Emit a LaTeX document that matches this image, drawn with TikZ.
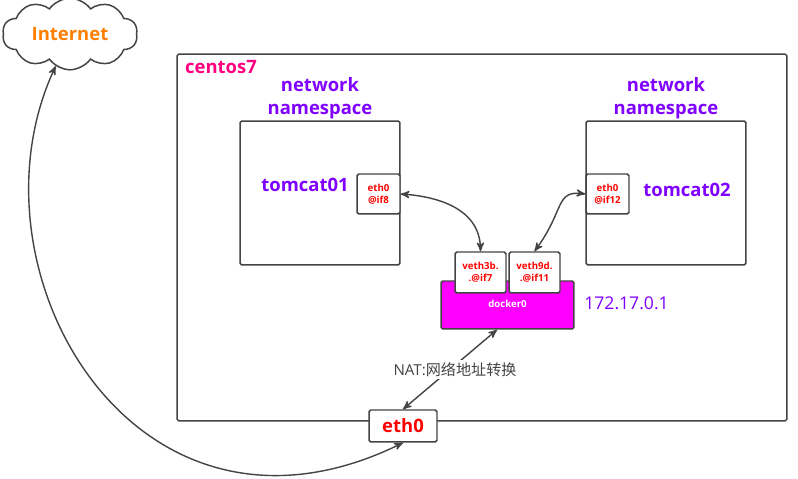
\documentclass[tikz,border=0pt]{standalone}
\usepackage{fontspec}
\setmainfont{Open Sans}
\newfontfamily\cjk{Noto Sans CJK SC}
\usepackage{tikz}
\usetikzlibrary{arrows}
\usetikzlibrary{shapes}
\definecolor{lineGray}{HTML}{444444}
\definecolor{nsPurple}{HTML}{7F00FF}
\definecolor{hostPink}{HTML}{FF0080}
\definecolor{netOrange}{HTML}{FF8000}
\definecolor{dockerPink}{HTML}{FF00FF}
\tikzset{
  box/.style={draw=lineGray, line width=0.85pt, rounded corners=1pt, fill=white, inner sep=0pt, align=center},
  port/.style={box, minimum width=0.86cm, minimum height=0.8cm, text=red, font=\fontsize{5.5}{6.6}\selectfont\bfseries},
  veth/.style={box, minimum width=1.02cm, minimum height=0.82cm, text=red, font=\fontsize{5.5}{7}\selectfont\bfseries},
  nsbox/.style={box, minimum width=3.2cm, minimum height=2.88cm},
  nstext/.style={text=nsPurple, align=center, font=\fontsize{10.5}{13}\selectfont\bfseries},
  link/.style={draw=lineGray, line width=0.8pt, <->, >=stealth'}
}
\begin{document}
\begin{tikzpicture}[x={(0.02,0)},y={(0,-0.02)}]
        \useasboundingbox (0,0) rectangle (798,479);

        \node[box, minimum width=12.2cm, minimum height=7.34cm](centos) at (482,237.5){};
        \node[anchor=west, text=hostPink, font=\fontsize{10.5}{13}\selectfont\bfseries](centosT) at (179,67){centos7};

        \node[cloud, cloud puffs=10, cloud puff arc=110, aspect=1.9, draw=lineGray, line width=0.85pt, fill=white, inner sep=0pt, minimum width=2.7cm, minimum height=1.22cm, text=netOrange, font=\fontsize{10.5}{13}\selectfont\bfseries](internet) at (70,34){Internet};

        \node[nstext](ns1) at (320,98){network\\namespace};
        \node[nstext](ns2) at (666,98){network\\namespace};

        \node[nsbox](tomcat1) at (320,193){};
        \node[nsbox](tomcat2) at (666,193){};
        \node[nstext](tomcat1T) at (305,185){tomcat01};
        \node[nstext](tomcat2T) at (687,190){tomcat02};

        \node[port](eth1) at (378.5,194){eth0\\@if8};
        \node[port](eth2) at (607.5,194){eth0\\@if12};

        \node[box, fill=dockerPink, minimum width=2.66cm, minimum height=0.96cm](docker) at (507.5,305){};
        \node[text=white, font=\fontsize{5.5}{7}\selectfont\bfseries](dockerT) at (507.5,304){docker0};
        \node[veth](veth1) at (480.5,272.5){veth3b.\\.@if7};
        \node[veth](veth2) at (534.5,272.5){veth9d.\\.@if11};
        \node[text=nsPurple, anchor=west, inner sep=0pt, font=\fontsize{10}{11}\selectfont](dockerIp) at (584,303){172.17.0.1};

        \node[box, minimum width=1.36cm, minimum height=0.64cm, text=red, font=\fontsize{10.5}{13}\selectfont\bfseries](eth) at (403,426){eth0};

        \draw[link] (eth1.east) .. controls (430,196) and (480,205) .. (veth1.north);
        \draw[link] (eth2.west) .. controls (555,190) and (565,210) .. (veth2.north);
        \draw[link] (eth.north) -- node[fill=white, inner sep=1.5pt, xshift=1mm, text=lineGray, font=\fontsize{8.6}{10}\selectfont, pos=0.5]{NAT:{\cjk 网络地址转换}} (docker.247);
        \draw[link] (internet.246) .. controls (-40,270) and (135,575) .. (eth.south);
      \end{tikzpicture}
\end{document}
